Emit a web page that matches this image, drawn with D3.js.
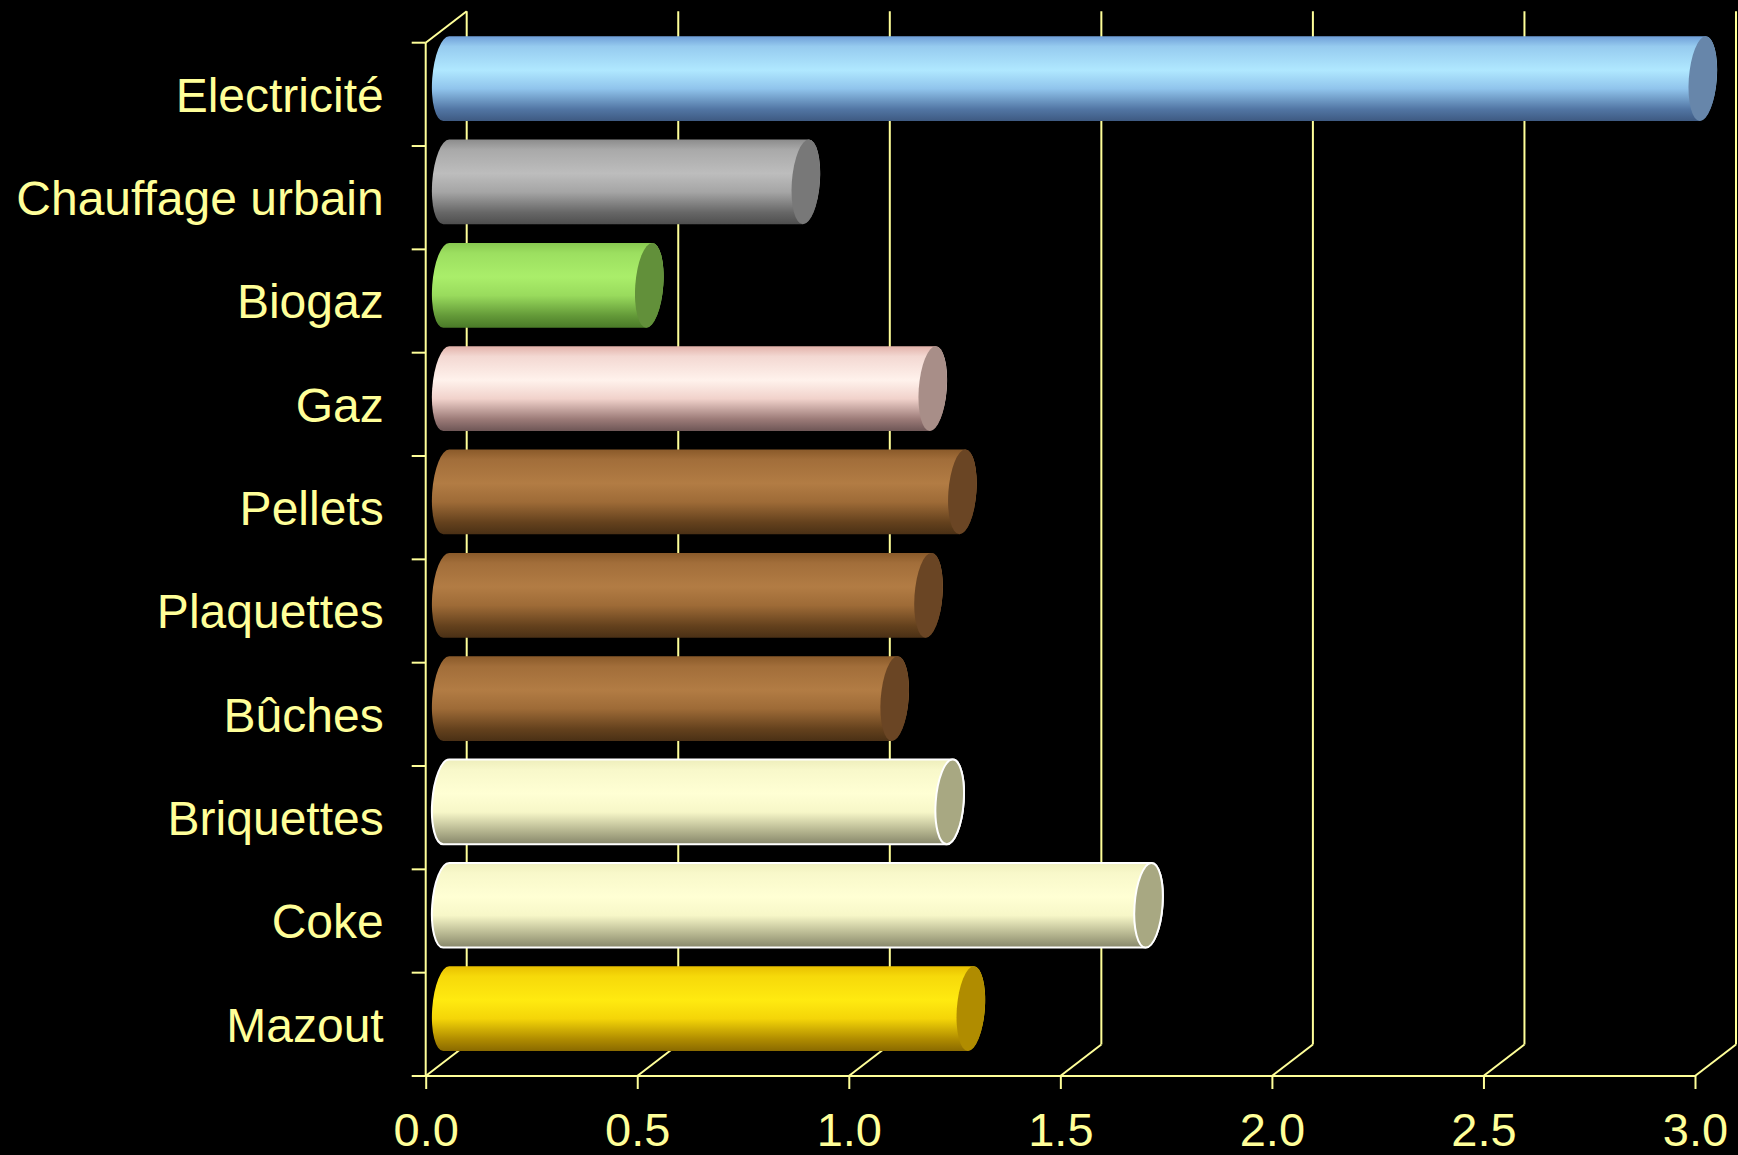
<!DOCTYPE html>
<html>
<head>
<meta charset="utf-8">
<script src="https://cdn.jsdelivr.net/npm/d3@7"></script>
<style>
  html, body { margin: 0; padding: 0; background: #000; }
  svg { display: block; }
</style>
</head>
<body>
<script>
// Energy carriers, top to bottom
const categories = ["Electricité", "Chauffage urbain", "Biogaz", "Gaz", "Pellets",
  "Plaquettes", "Bûches", "Briquettes", "Coke", "Mazout"];
const values = [2.97, 0.85, 0.48, 1.15, 1.22, 1.14, 1.06, 1.19, 1.66, 1.24];
const xTicks = [0, 0.5, 1.0, 1.5, 2.0, 2.5, 3.0];

// Cylinder shading per bar: [edge, highlight, shadow, end cap]
const shades = [
  ["#6f9fd8", "#b0e8ff", "#3e5a82", "#6786aa"],
  ["#8c8c8c", "#bdbdbd", "#4e4e4e", "#787878"],
  ["#88c850", "#aaee6a", "#4a7a28", "#62903a"],
  ["#e2b2aa", "#fff2ec", "#6e5656", "#a88e88"],
  ["#8a5a2a", "#b27c44", "#4a3015", "#6a4524"],
  ["#8a5a2a", "#b27c44", "#4a3015", "#6a4524"],
  ["#8a5a2a", "#b27c44", "#4a3015", "#6a4524"],
  ["#eeeebc", "#ffffd4", "#86866a", "#a8a882"],
  ["#eeeebc", "#ffffd4", "#86866a", "#a8a882"],
  ["#e8c000", "#ffea10", "#8a6a00", "#b08c00"]
];
const outlined = [false, false, false, false, false, false, false, true, true, false];

const W = 1738, H = 1155;
const axisColor = "#ffff99";
const depth = { dx: 41, dy: -31.5 };

const svg = d3.select("body").append("svg")
  .attr("width", W).attr("height", H)
  .style("background", "#000");

const x = d3.scaleLinear().domain([0, 3]).range([425.7, 1695]);
const y = d3.scaleBand().domain(categories).range([42.7, 1076]).padding(0);
const bw = y.bandwidth();
const floorY = y.range()[1];

const defs = svg.append("defs");
categories.forEach((c, i) => {
  const [edge, hi, shadow] = shades[i];
  const mix = d3.interpolateRgb;
  const g = defs.append("linearGradient")
    .attr("id", "grad" + i)
    .attr("x1", 0).attr("y1", 0).attr("x2", 0).attr("y2", 1);
  [[0, edge], [0.12, mix(edge, hi)(0.6)], [0.4, hi], [0.62, mix(hi, edge)(0.5)],
   [0.86, mix(edge, shadow)(0.6)], [1, shadow]]
    .forEach(([o, col]) => g.append("stop").attr("offset", o).attr("stop-color", col));
});

// Back wall: vertical gridlines and floor diagonals
const grid = svg.append("g").attr("stroke", axisColor).attr("stroke-width", 2).attr("fill", "none");
xTicks.forEach(t => {
  const bx = x(t) + depth.dx;
  grid.append("line")
    .attr("x1", bx).attr("x2", bx)
    .attr("y1", y.range()[0] + depth.dy).attr("y2", floorY + depth.dy);
  grid.append("line")
    .attr("x1", x(t)).attr("y1", floorY)
    .attr("x2", bx).attr("y2", floorY + depth.dy);
});
// Top edge of the side wall
grid.append("line")
  .attr("x1", x(0)).attr("y1", y.range()[0])
  .attr("x2", x(0) + depth.dx).attr("y2", y.range()[0] + depth.dy);

// Cylinders
const rx = 14;
const bars = svg.append("g");
categories.forEach((c, i) => {
  const h = bw * 0.82;
  const cy = y(c) + bw / 2 + depth.dy / 2;
  const x0 = x(0) + depth.dx / 2;
  const x1 = x(values[i]) + depth.dx / 2;
  const top = cy - h / 2, bot = cy + h / 2, ry = h / 2;
  const skew = `translate(0,${cy}) skewX(-4) translate(0,${-cy})`;
  const g = bars.append("g");
  const body = `M${x0},${top} L${x1},${top} A${rx},${ry} 0 0 1 ${x1},${bot} L${x0},${bot} A${rx},${ry} 0 0 1 ${x0},${top} Z`;
  g.append("path")
    .attr("d", body)
    .attr("transform", skew)
    .attr("fill", `url(#grad${i})`)
    .attr("stroke", outlined[i] ? "#ffffff" : "none")
    .attr("stroke-width", outlined[i] ? 2 : 0);
  g.append("ellipse")
    .attr("cx", x1).attr("cy", cy).attr("rx", rx).attr("ry", ry)
    .attr("transform", skew)
    .attr("fill", shades[i][3])
    .attr("stroke", outlined[i] ? "#ffffff" : "none")
    .attr("stroke-width", outlined[i] ? 2 : 0);
});

// Front axes
const front = svg.append("g").attr("stroke", axisColor).attr("stroke-width", 2);
front.append("line")
  .attr("x1", x(0)).attr("x2", x(0))
  .attr("y1", y.range()[0]).attr("y2", floorY);
front.append("line")
  .attr("x1", x(0)).attr("x2", x(3))
  .attr("y1", floorY).attr("y2", floorY);
// Category boundary ticks
const bounds = categories.map(c => y(c)).concat([floorY]);
bounds.forEach(b => {
  front.append("line")
    .attr("x1", x(0) - 14).attr("x2", x(0))
    .attr("y1", b).attr("y2", b);
});

const xAxis = svg.append("g")
  .attr("transform", `translate(0,${floorY})`)
  .call(d3.axisBottom(x).tickValues(xTicks).tickFormat(d3.format(".1f")).tickSize(13).tickPadding(24));
xAxis.select(".domain").remove();
xAxis.selectAll("line").attr("stroke", axisColor).attr("stroke-width", 2);
xAxis.selectAll("text")
  .attr("fill", axisColor)
  .attr("font-family", "'Liberation Sans', Arial, sans-serif")
  .attr("font-size", 47)
  .attr("dy", "0.71em");

const yAxis = svg.append("g")
  .attr("transform", `translate(${x(0)},0)`)
  .call(d3.axisLeft(y).tickSize(0).tickPadding(42));
yAxis.select(".domain").remove();
yAxis.selectAll("text")
  .attr("fill", axisColor)
  .attr("font-family", "'Liberation Sans', Arial, sans-serif")
  .attr("font-size", 48)
  .attr("dy", "0.36em");
</script>
</body>
</html>
